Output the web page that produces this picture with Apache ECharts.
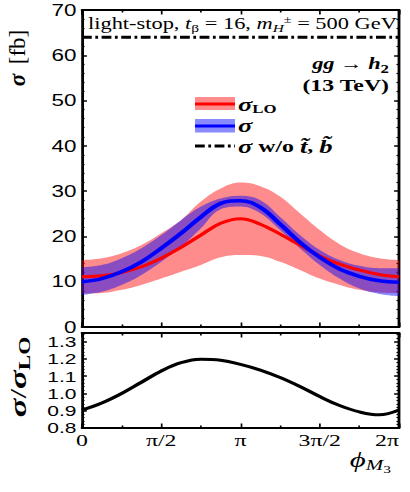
<!DOCTYPE html>
<html>
<head>
<meta charset="utf-8">
<script src="https://cdn.jsdelivr.net/npm/echarts@6/dist/echarts.min.js"></script>
<style>
  html, body { margin: 0; padding: 0; background: #fff; overflow: hidden; }
  #wrap { width: 410px; height: 492px; overflow: hidden; }
  /* the reference figure is stretched sideways, so draw narrow and widen it */
  #main { width: 293px; height: 492px; transform: scaleX(1.4); transform-origin: 0 0; }
</style>
</head>
<body>
<div id="wrap"><div id="main"></div></div>
<script>
var STRETCH = 1.4;

// phi in steps of pi/8, from 0 to 2pi
var phiSteps = [0, 1, 2, 3, 4, 5, 6, 7, 8, 9, 10, 11, 12, 13, 14, 15, 16];
var xTickLabels = ['0', 'π/2', 'π', '3π/2', '2π'];

// sigma_LO [fb]: central, upper and lower edge of the band
var sigmaLO     = [11.1, 11.3, 12.0, 13.3, 15.2, 17.6, 20.3, 22.9, 23.9, 22.7, 20.5, 18.1, 15.7, 13.9, 12.6, 11.6, 11.1];
var sigmaLOUp   = [14.8, 15.2, 16.3, 18.1, 20.7, 23.6, 27.7, 30.6, 31.9, 31.1, 28.8, 25.1, 21.4, 18.3, 16.3, 15.2, 14.8];
var sigmaLODown = [7.4, 7.5, 8.2, 9.3, 10.7, 12.2, 13.7, 15.4, 15.9, 15.7, 14.4, 12.6, 10.7, 9.3, 8.2, 7.6, 7.4];

// sigma (NLO) [fb]
var sigmaNLO     = [10.0, 10.7, 12.2, 14.4, 17.4, 20.7, 24.3, 27.3, 27.9, 26.4, 22.7, 18.7, 15.4, 12.8, 11.2, 10.2, 9.9];
var sigmaNLOUp   = [13.2, 13.7, 15.2, 17.4, 20.3, 23.6, 26.6, 28.4, 29.0, 28.0, 24.3, 20.3, 17.0, 14.8, 13.5, 13.0, 13.0];
var sigmaNLODown = [7.1, 7.8, 9.3, 11.5, 14.4, 17.7, 21.8, 26.0, 26.6, 25.1, 21.4, 17.4, 13.7, 10.7, 8.5, 7.3, 6.8];

// sigma without stops/sbottoms (flat)
var sigmaNoSquark = 64;

// sigma / sigma_LO
var ratio = [0.904, 0.945, 1.000, 1.065, 1.130, 1.178, 1.198, 1.192, 1.168, 1.135, 1.092, 1.040, 0.982, 0.930, 0.893, 0.876, 0.904];

function phi(k) { return k * Math.PI / 8; }
function pairs(arr) { return phiSteps.map(function (k, i) { return [phi(k), arr[i]]; }); }
function spread(up, down) { return up.map(function (u, i) { return +(u - down[i]).toFixed(2); }); }
function px(x) { return x / STRETCH; }

var SERIF = 'Liberation Serif';
var SANS = 'Liberation Sans';
var X0 = px(82), XR = 293 - px(399);

function xAxisDef(grid, pos, labels) {
  return {
    gridIndex: grid, type: 'value', position: pos,
    min: 0, max: 2 * Math.PI, interval: Math.PI / 2,
    axisLine: { onZero: false, lineStyle: { color: '#000', width: 2 } },
    axisTick: { inside: true, length: 4.5, lineStyle: { color: '#000', width: 1.2 } },
    minorTick: { show: true, splitNumber: 2, length: 2.5, lineStyle: { color: '#000', width: 1.2 } },
    splitLine: { show: false },
    axisLabel: labels ? {
      show: true, color: '#000', fontFamily: SERIF, fontSize: 17, margin: 4,
      alignMaxLabel: 'right',
      formatter: function (v) { return xTickLabels[Math.round(v / (Math.PI / 2))]; }
    } : { show: false }
  };
}
// hidden category axis so the bands can be stacked on y
function bandAxisDef(grid) {
  return {
    gridIndex: grid, type: 'category', data: phiSteps.map(String), boundaryGap: false,
    show: false, axisLine: { onZero: false }
  };
}
function yAxisDef(grid, pos, min, max, interval, minorSplit, labels) {
  return {
    gridIndex: grid, type: 'value', position: pos,
    min: min, max: max, interval: interval,
    axisLine: { show: true, onZero: false, lineStyle: { color: '#000', width: 2 } },
    axisTick: { show: true, inside: true, length: 3.5, lineStyle: { color: '#000', width: 1.5 } },
    minorTick: { show: true, splitNumber: minorSplit, length: 1.8, lineStyle: { color: '#000', width: 1.2 } },
    splitLine: { show: false },
    axisLabel: labels || { show: false }
  };
}

function lineSeries(x, y, data, color, width, extra) {
  var s = {
    type: 'line', xAxisIndex: x, yAxisIndex: y, data: data,
    symbol: 'none', showSymbol: false, smooth: 0.4, silent: true,
    lineStyle: { color: color, width: width }
  };
  for (var k in extra) s[k] = extra[k];
  return s;
}

// rotated plain text for the y-axis titles
function sideText(text, y, size, italic, bold) {
  return {
    type: 'text', x: px(18), y: y, rotation: Math.PI / 2, scaleY: 1 / STRETCH, z: 100,
    style: {
      text: text, fill: '#000', fontFamily: SERIF, fontSize: size,
      fontStyle: italic ? 'italic' : 'normal', fontWeight: bold ? 'bold' : 'normal',
      align: 'center', verticalAlign: 'middle'
    }
  };
}

var rich = {
  r:   { fontFamily: SERIF, fontSize: 16, lineHeight: 20, fill: '#000' },
  i:   { fontFamily: SERIF, fontSize: 16, lineHeight: 20, fontStyle: 'italic', fill: '#000' },
  sub: { fontFamily: SERIF, fontSize: 11, lineHeight: 11, padding: [9, 0, 0, 0], fill: '#000' },
  isub:{ fontFamily: SERIF, fontSize: 11, lineHeight: 11, fontStyle: 'italic', padding: [9, 0, 0, 0], fill: '#000' },
  sup: { fontFamily: SERIF, fontSize: 10, lineHeight: 10, padding: [0, 0, 9, 0], fill: '#000' }
};
var boldRich = {
  s:   { fontFamily: SERIF, fontSize: 19, lineHeight: 22, fontStyle: 'italic', fontWeight: 'bold', fill: '#000' },
  r:   { fontFamily: SERIF, fontSize: 17, lineHeight: 22, fontWeight: 'bold', fill: '#000' },
  i:   { fontFamily: SERIF, fontSize: 16, lineHeight: 22, fontStyle: 'italic', fontWeight: 'bold', fill: '#000' },
  n:   { fontFamily: SERIF, fontSize: 16, lineHeight: 22, fill: '#000' },
  sub: { fontFamily: SERIF, fontSize: 12, lineHeight: 12, fontWeight: 'bold', padding: [10, 0, 0, 0], fill: '#000' }
};

var option = {
  animation: false,
  backgroundColor: '#fff',
  grid: [
    { left: X0, right: XR, top: 10, height: 317, outerBoundsMode: 'none' },
    { left: X0, right: XR, top: 333, height: 95, outerBoundsMode: 'none' }
  ],
  xAxis: [
    xAxisDef(0, 'bottom', false),
    xAxisDef(0, 'top', false),
    xAxisDef(1, 'bottom', true),
    xAxisDef(1, 'top', false),
    bandAxisDef(0)
  ],
  yAxis: [
    yAxisDef(0, 'left', 0, 70, 10, 5, { show: true, color: '#000', fontFamily: SANS, fontSize: 16, lineHeight: 12, margin: 4, padding: [0, 0, 4, 0] }),
    yAxisDef(0, 'right', 0, 70, 10, 5, null),
    yAxisDef(1, 'left', 0.8, 1.35, 0.1, 5, {
      show: true, color: '#000', fontFamily: SANS, fontSize: 15, lineHeight: 11, margin: 4, showMaxLabel: false,
      formatter: function (v) { return v.toFixed(1); }
    }),
    yAxisDef(1, 'right', 0.8, 1.35, 0.1, 5, null)
  ],
  series: [
    // LO band
    lineSeries(4, 0, sigmaLODown, '#000', 0, { stack: 'lo', lineStyle: { opacity: 0, width: 0 } }),
    lineSeries(4, 0, spread(sigmaLOUp, sigmaLODown), '#000', 0, {
      stack: 'lo', lineStyle: { opacity: 0, width: 0 },
      areaStyle: { color: 'rgba(255,0,0,0.45)', opacity: 1 }
    }),
    // NLO band
    lineSeries(4, 0, sigmaNLODown, '#000', 0, { stack: 'nlo', lineStyle: { opacity: 0, width: 0 } }),
    lineSeries(4, 0, spread(sigmaNLOUp, sigmaNLODown), '#000', 0, {
      stack: 'nlo', lineStyle: { opacity: 0, width: 0 },
      areaStyle: { color: 'rgba(0,0,255,0.46)', opacity: 1 }
    }),
    lineSeries(0, 0, pairs(sigmaLO), '#ff0000', 3, {}),
    lineSeries(0, 0, pairs(sigmaNLO), '#0000ff', 3.5, {}),
    lineSeries(0, 0, [[0, sigmaNoSquark], [2 * Math.PI, sigmaNoSquark]], '#000', 3, {
      smooth: false, lineStyle: { color: '#000', width: 3, type: [7, 2.5, 2, 2.5] }
    }),
    // ratio panel
    lineSeries(2, 2, pairs(ratio), '#000', 3, {})
  ],
  graphic: [
    { type: 'text', x: px(88), y: 24, z: 100,
      style: { text: '{r|light-stop, }{i|t}{sub|β}{r| = 16, }{i|m}{isub|H}{sup|±}{r| = 500 GeV}',
               rich: rich, align: 'left', verticalAlign: 'middle' } },
    { type: 'text', x: px(389), y: 64, z: 100,
      style: { text: '{i|gg}{n| → }{i|h}{sub|2}', rich: boldRich, align: 'right', verticalAlign: 'middle' } },
    { type: 'text', x: px(389), y: 85, z: 100,
      style: { text: '{r|(13 TeV)}', rich: boldRich, align: 'right', verticalAlign: 'middle' } },

    // legend
    { type: 'rect', z: 100, shape: { x: px(195), y: 97, width: px(40), height: 13 }, style: { fill: 'rgba(255,0,0,0.45)' } },
    { type: 'line', z: 101, shape: { x1: px(195), y1: 104, x2: px(235), y2: 104 }, style: { stroke: '#ff0000', lineWidth: 3 } },
    { type: 'rect', z: 100, shape: { x: px(195), y: 119, width: px(40), height: 13.5 }, style: { fill: 'rgba(0,0,255,0.46)' } },
    { type: 'line', z: 101, shape: { x1: px(195), y1: 126, x2: px(235), y2: 126 }, style: { stroke: '#0000ff', lineWidth: 3 } },
    { type: 'line', z: 101, shape: { x1: px(195), y1: 146, x2: px(235), y2: 146 },
      style: { stroke: '#000', lineWidth: 3, lineDash: [7, 2.5, 2, 2.5] } },
    { type: 'text', x: px(238), y: 104, z: 100,
      style: { text: '{s|σ}{sub|LO}', rich: boldRich, align: 'left', verticalAlign: 'middle' } },
    { type: 'text', x: px(238), y: 125, z: 100,
      style: { text: '{s|σ}', rich: boldRich, align: 'left', verticalAlign: 'middle' } },
    { type: 'text', x: px(238), y: 146, z: 100,
      style: { text: '{s|σ}{r| w/o }{s|t\u0303}{r|, }{s|b\u0303}', rich: boldRich, align: 'left', verticalAlign: 'middle' } },

    // axis titles
    sideText('σ', 80, 23, true, true),
    sideText('[fb]', 47, 23, false, false),
    { type: 'text', x: px(18), y: 377, rotation: Math.PI / 2, scaleX: 1.45, scaleY: 1 / STRETCH, z: 100,
      style: { text: '{s|σ}{n|/}{s|σ}{sub|LO}', align: 'center', verticalAlign: 'middle',
               rich: { s: { fontFamily: SERIF, fontSize: 24, lineHeight: 26, fontStyle: 'italic', fontWeight: 'bold', fill: '#000' },
                       n: { fontFamily: SERIF, fontSize: 24, lineHeight: 26, fill: '#000' },
                       sub: { fontFamily: SERIF, fontSize: 16, lineHeight: 16, fontWeight: 'bold', padding: [12, 0, 0, 0], fill: '#000' } } } },
    { type: 'text', x: px(391), y: 460, z: 100,
      style: { text: '{p|ϕ}{m|M}{t|3}', align: 'right', verticalAlign: 'middle',
               rich: { p: { fontFamily: SERIF, fontSize: 22, lineHeight: 26, fontStyle: 'italic', fill: '#000' },
                       m: { fontFamily: SERIF, fontSize: 15, lineHeight: 15, fontStyle: 'italic', padding: [11, 0, 0, 0], fill: '#000' },
                       t: { fontFamily: SERIF, fontSize: 11, lineHeight: 11, padding: [19, 0, 0, 0], fill: '#000' } } } }
  ]
};

var myChart = echarts.init(document.getElementById('main'), null, { renderer: 'svg' });
myChart.setOption(option);
</script>
</body>
</html>
